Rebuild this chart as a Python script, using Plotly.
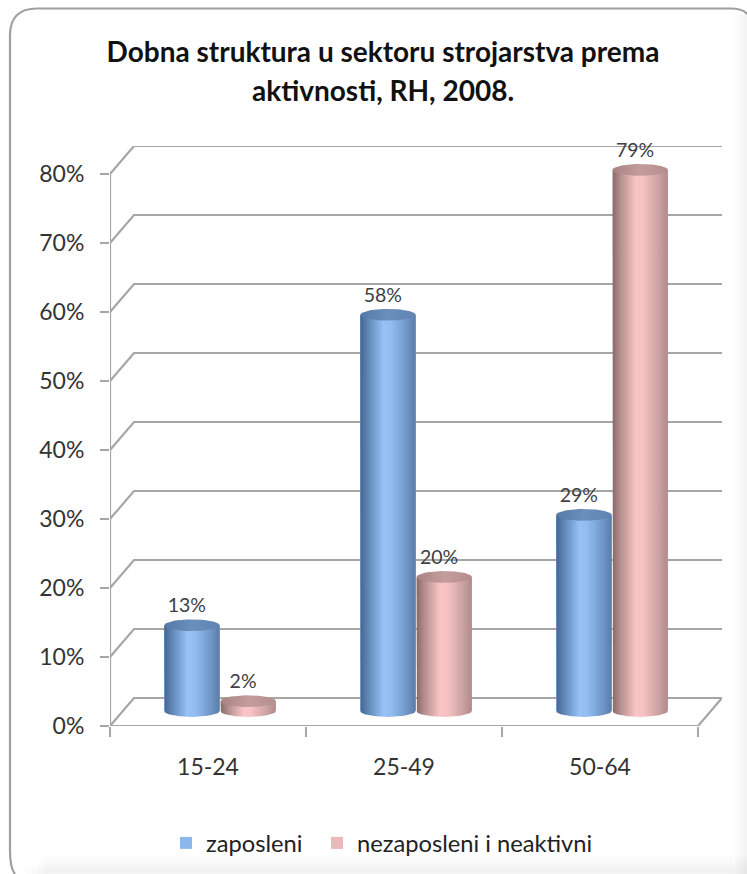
import numpy as np
import plotly.graph_objects as go

TITLE_LINE_1 = "Dobna struktura u sektoru strojarstva prema"
TITLE_LINE_2 = "aktivnosti, RH, 2008."
categories = ["15-24", "25-49", "50-64"]
zaposleni = [13, 58, 29]
nezaposleni = [2, 20, 79]
y_ticks = [0, 10, 20, 30, 40, 50, 60, 70, 80]
y_tick_labels = ["0%", "10%", "20%", "30%", "40%", "50%", "60%", "70%", "80%"]

W, H = 747, 874
L, R, T, B = 110, 722, 146, 726
PX_Y = 6.9          # px per percent
PX_X = 196.0        # px per category
y_top = (B - T) / PX_Y
x_left = -0.5
x_right = x_left + (R - L) / PX_X
x_front_end = 2.5
dx_depth = 24 / PX_X
dy_depth = 28 / PX_Y

BAR_W = 0.282
BASE = 2.17
TOP_SHIFT = 1.6
EY = 0.85
OFF_BLUE, OFF_PINK = -0.082, 0.205
LABEL_DX = -0.026

BLUE = "#8db6ea"
PINK = "#eab9b9"
GRID = "#a6a6a6"

blue_body = [[0, "#466690"], [0.14, "#5f86b6"], [0.42, "#96c2f7"], [0.55, "#93bef2"], [0.85, "#6f95c6"], [1, "#5a7ca8"]]
pink_body = [[0, "#8a6868"], [0.14, "#b48e8e"], [0.42, "#f9c4c4"], [0.55, "#f7c2c2"], [0.85, "#c9a0a0"], [1, "#b08a8a"]]
blue_cap = [[0, "#567aa6"], [0.5, "#6a8fbd"], [1, "#5f84b2"]]
pink_cap = [[0, "#a98383"], [0.5, "#c49c9c"], [1, "#b48e8e"]]

fig = go.Figure()

# true bars: carry the values and the legend swatches
for name, vals, col, off, leg in [("zaposleni", zaposleni, BLUE, OFF_BLUE, "legend"),
                                  ("nezaposleni i neaktivni", nezaposleni, PINK, OFF_PINK, "legend2")]:
    fig.add_trace(go.Bar(
        x=list(range(len(categories))), y=[v + TOP_SHIFT - BASE for v in vals], base=BASE,
        width=BAR_W, offset=off - BAR_W / 2, name=name, marker=dict(color=col, line=dict(width=0)),
        hoverinfo="skip", legend=leg,
    ))


# 3D frame
def line(xs, ys, color=GRID, width=2.2):
    fig.add_trace(go.Scatter(x=xs, y=ys, mode="lines", line=dict(color=color, width=width),
                             showlegend=False, hoverinfo="skip", cliponaxis=False))


for v in y_ticks:
    line([x_left, x_left + dx_depth, x_right], [v, v + dy_depth, v + dy_depth])
line([x_left, x_left], [0, y_ticks[-1]])
line([x_left, x_front_end, x_front_end + dx_depth], [0, 0, dy_depth])

# cylinders
t_low = np.linspace(np.pi, 2 * np.pi, 40)
t_full = np.linspace(0, 2 * np.pi, 80)


def cylinder(cx, v, body, cap):
    top = v + TOP_SHIFT
    a = BAR_W / 2
    xs = [cx - a] + list(cx + a * np.cos(t_low)) + [cx + a, cx - a]
    ys = [top] + list(BASE + EY * np.sin(t_low)) + [top, top]
    fig.add_trace(go.Scatter(x=xs, y=ys, mode="lines", fill="toself", line=dict(width=0),
                             fillgradient=dict(type="horizontal", colorscale=body),
                             showlegend=False, hoverinfo="skip"))
    fig.add_trace(go.Scatter(x=cx + a * np.cos(t_full), y=top + EY * np.sin(t_full), mode="lines", fill="toself",
                             line=dict(width=0), fillgradient=dict(type="horizontal", colorscale=cap),
                             showlegend=False, hoverinfo="skip"))


for i in range(len(categories)):
    cylinder(i + OFF_BLUE, zaposleni[i], blue_body, blue_cap)
    cylinder(i + OFF_PINK, nezaposleni[i], pink_body, pink_cap)

# value labels
for vals, off in [(zaposleni, OFF_BLUE), (nezaposleni, OFF_PINK)]:
    fig.add_trace(go.Scatter(
        x=[i + off + LABEL_DX for i in range(len(categories))], y=[v + 4.2 for v in vals], mode="text",
        text=[f"{v}%" for v in vals], textfont=dict(family="Lato", size=19.5, color="#404040"),
        showlegend=False, hoverinfo="skip", cliponaxis=False,
    ))

x0p = lambda x: (x - L) / (R - L)
y0p = lambda y: (B - y) / (B - T)

# card outline: only the top and left edges show, the rest runs off the picture
xl, yt, rad = 10.0, 8.5, 27
path = (
    f"M {x0p(15)} {y0p(874)} Q {x0p(xl)} {y0p(868)} {x0p(xl)} {y0p(850)} "
    f"L {x0p(xl)} {y0p(yt + rad)} Q {x0p(xl)} {y0p(yt)} {x0p(xl + rad)} {y0p(yt)} "
    f"L {x0p(730)} {y0p(yt)} Q {x0p(743)} {y0p(yt)} {x0p(747)} {y0p(14)}"
)
shapes = []
# faint inner shading along the right and bottom edges
for xs in [735, 738, 741, 744]:
    shapes.append(dict(type="rect", xref="paper", yref="paper", x0=x0p(xs), x1=x0p(747), y0=y0p(14), y1=y0p(874),
                       fillcolor="rgba(0,0,0,0.01)", line=dict(width=0), layer="below"))
for ys, xs in [(856, 44), (860, 38), (864, 32), (868, 26)]:
    shapes.append(dict(type="rect", xref="paper", yref="paper", x0=x0p(xs), x1=x0p(747), y0=y0p(ys), y1=y0p(874),
                       fillcolor="rgba(0,0,0,0.01)", line=dict(width=0), layer="below"))
shapes.append(dict(type="path", xref="paper", yref="paper", path=path, line=dict(color="#a0a0a0", width=2.2),
                   fillcolor="rgba(0,0,0,0)", layer="below"))

legend_common = dict(orientation="h", yanchor="middle", xanchor="left", y=y0p(843), bgcolor="rgba(0,0,0,0)",
                     font=dict(family="Lato", size=23.7, color="#222222"), itemclick=False, itemdoubleclick=False)

title_font = dict(family="Lato", size=28, color="#111111", weight="bold")

fig.update_layout(
    width=W, height=H,
    margin=dict(l=L, r=W - R, t=T, b=H - B, autoexpand=False),
    paper_bgcolor="white", plot_bgcolor="rgba(0,0,0,0)",
    barmode="overlay", bargap=0,
    font=dict(family="Lato", color="#333333"),
    title=dict(text=TITLE_LINE_1, x=383 / W, xanchor="center", y=1 - 52 / H, yanchor="middle", font=title_font),
    annotations=[dict(text=TITLE_LINE_2, xref="paper", yref="paper", x=x0p(383), y=y0p(90), showarrow=False,
                      xanchor="center", yanchor="middle", font=title_font)],
    xaxis=dict(range=[x_left, x_right], tickvals=[0, 1, 2], ticktext=categories, ticks="outside", ticklen=0,
               tickfont=dict(size=23, color="#333333"), showgrid=False, zeroline=False, showline=False,
               fixedrange=True, ticklabelstandoff=20,
               minor=dict(tickvals=[-0.5, 0.5, 1.5, 2.5], ticks="outside", ticklen=10, tickcolor=GRID, tickwidth=2.2,
                          showgrid=False)),
    yaxis=dict(range=[0, y_top], tickvals=y_ticks, ticktext=y_tick_labels, ticks="outside", ticklen=9, tickcolor=GRID,
               tickwidth=2.2, tickfont=dict(size=23, color="#333333"), showgrid=False, zeroline=False, showline=False,
               fixedrange=True, ticklabelstandoff=11),
    legend=dict(legend_common, x=x0p(166)),
    legend2=dict(legend_common, x=x0p(317)),
    shapes=shapes,
)

fig.write_html("out.html", config={"displayModeBar": False},
               post_script="document.body.style.margin='0';")
